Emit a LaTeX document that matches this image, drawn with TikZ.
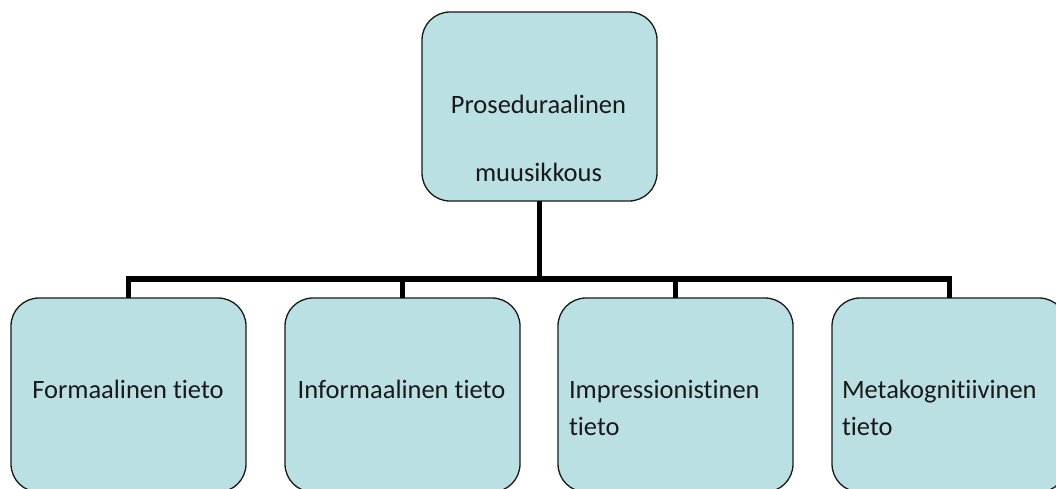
\documentclass[tikz,border=0pt]{standalone}
\usepackage{fontspec}
\setmainfont[Ligatures={NoCommon}]{Carlito}
\definecolor{boxfill}{RGB}{187,224,227}
\begin{document}
\begin{tikzpicture}[x=1pt,y=-1pt,
  box/.style={draw=black!90, line width=1.3pt, fill=boxfill, rounded corners=28pt,
    minimum width=235pt, inner sep=0pt, outer sep=0pt},
  txt/.style={inner sep=0pt, outer sep=0pt, font=\fontsize{26.5}{37}\selectfont, text=black!90},
  conn/.style={line width=5.5pt, black}]
\useasboundingbox (0,0) rectangle (1056,488);
\node[box, minimum height=189pt] (top) at (539.5,106.5) {};
\node[box, minimum height=194pt] (b1) at (128.5,395) {};
\node[box, minimum height=194pt] (b2) at (402.5,395) {};
\node[box, minimum height=194pt] (b3) at (675.5,395) {};
\node[box, minimum height=194pt] (b4) at (949.5,395) {};
\coordinate (bus) at (539.5,279);
\draw[conn] (top.south) -- (bus);
\draw[conn] (b1.north) |- (bus) -| (b4.north);
\draw[conn] (b2.north) -- (b2.north |- bus);
\draw[conn] (b3.north) -- (b3.north |- bus);
\node[txt, anchor=base] (t0a) at (538.5,113) {Proseduraalinen};
\node[txt, anchor=base] (t0b) at (538.5,181) {muusikkous};
\node[txt, anchor=base] (t1) at (128,398) {Formaalinen tieto};
\node[txt, anchor=base] (t2) at (401.5,398) {Informaalinen tieto};
\node[txt, anchor=base west, align=left] (t3) at (569,435) {Impressionistinen\\tieto};
\node[txt, anchor=base west, align=left] (t4) at (842,435) {Metakognitiivinen\\tieto};
\end{tikzpicture}
\end{document}
